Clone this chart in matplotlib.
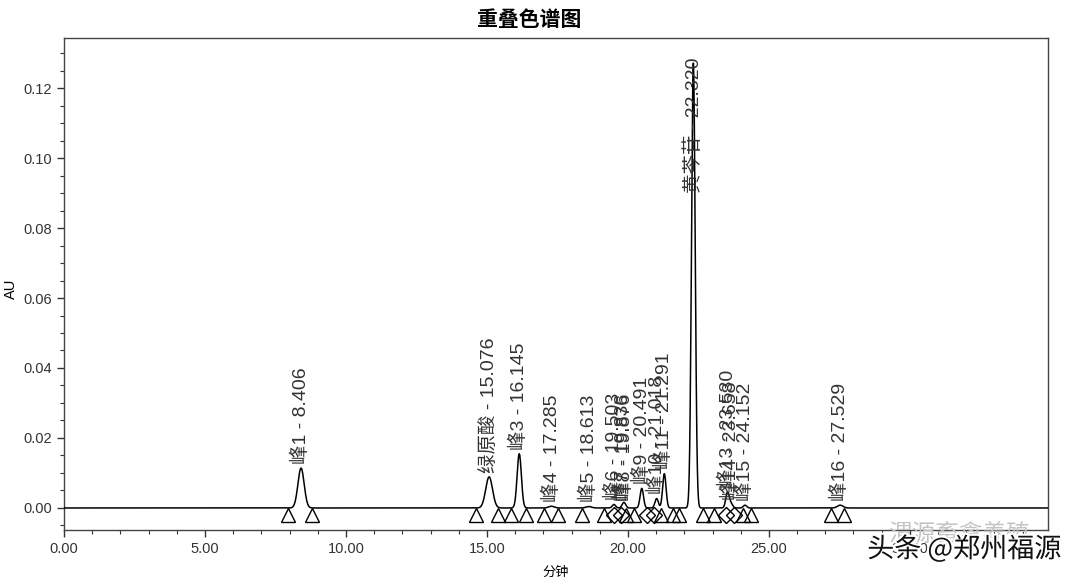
import numpy as np
import matplotlib
matplotlib.use("Agg")
import matplotlib.pyplot as plt
import matplotlib.patheffects as pe
from matplotlib.ticker import MultipleLocator, FormatStrFormatter

plt.rcParams['font.family'] = ['Liberation Sans', 'Noto Sans CJK SC', 'DejaVu Sans']

# peak table
peak_names = ['峰1', '绿原酸', '峰3', '峰4', '峰5', '峰6', '峰7', '峰8',
              '峰9', '峰10', '峰11', '黄芩苷', '峰13', '峰14', '峰15', '峰16']
peak_rt = [8.406, 15.076, 16.145, 17.285, 18.613, 19.503, 19.836, 19.876,
           20.491, 21.018, 21.291, 22.320, 23.530, 23.658, 24.152, 27.529]
peak_height = [0.0114, 0.0089, 0.0155, 0.0005, 0.0004, 0.0010, 0.0008, 0.0009,
               0.0056, 0.0027, 0.0098, 0.1272, 0.0045, 0.0012, 0.0008, 0.0008]
peak_sigma = [0.11, 0.12, 0.075, 0.10, 0.10, 0.06, 0.06, 0.06,
              0.06, 0.06, 0.06, 0.065, 0.06, 0.06, 0.06, 0.10]

# integration start/end marks on the baseline
tri_marks = [7.96, 8.81, 14.60, 15.39, 15.85, 16.38, 17.02, 17.52, 18.37, 19.15,
             19.94, 20.22, 21.18, 21.61, 21.82, 22.65, 23.06, 24.09, 24.38,
             27.22, 27.68]
dia_marks = [19.51, 19.76, 20.68, 20.93, 23.49, 23.77]

# build the trace from the peak table
t = np.linspace(0, 34.9, 6000)
signal = np.zeros_like(t)
for rt, h, s in zip(peak_rt, peak_height, peak_sigma):
    signal += h * np.exp(-0.5 * ((t - rt) / s) ** 2)

fig = plt.figure(figsize=(10.8, 5.88), dpi=100)
ax = fig.add_axes([0.0593, 0.0986, 0.9111, 0.8368])

ax.plot(t, signal, color='black', lw=1.1, zorder=3)

mark_y = -0.002
ax.plot(tri_marks, [mark_y] * len(tri_marks), linestyle='none', marker='^',
        markersize=10, markerfacecolor='none', markeredgecolor='black',
        markeredgewidth=1.0, zorder=4)
ax.plot(dia_marks, [mark_y] * len(dia_marks), linestyle='none', marker='D',
        markersize=8, markerfacecolor='none', markeredgecolor='black',
        markeredgewidth=1.0, zorder=4)

# peak labels
for name, rt, h in zip(peak_names, peak_rt, peak_height):
    label = f'{name} - {rt:.3f}'
    if h > 0.1:
        ax.text(rt, 0.1287, label, rotation=90, ha='center', va='top',
                fontsize=14, color='#333333', zorder=5)
    else:
        ax.text(rt, h + 0.0012, label, rotation=90, ha='center', va='bottom',
                fontsize=14, color='#333333', zorder=5)

ax.set_xlim(0, 34.9)
ax.set_ylim(-0.0063, 0.1343)
ax.xaxis.set_major_locator(MultipleLocator(5))
ax.xaxis.set_minor_locator(MultipleLocator(1))
ax.yaxis.set_major_locator(MultipleLocator(0.02))
ax.yaxis.set_minor_locator(MultipleLocator(0.005))
ax.xaxis.set_major_formatter(FormatStrFormatter('%.2f'))
ax.yaxis.set_major_formatter(FormatStrFormatter('%.2f'))
ax.tick_params(axis='both', which='major', length=5, width=1, labelsize=10.5,
               colors='#333333')
ax.tick_params(axis='both', which='minor', length=3, width=0.8, colors='#333333')
for sp in ax.spines.values():
    sp.set_color('#444444')
    sp.set_linewidth(1.0)

ax.set_xlabel('分钟', fontsize=9.5, labelpad=8)
ax.set_ylabel('AU', fontsize=10.5)
ax.yaxis.set_label_coords(-0.047, 0.49)
fig.suptitle('重叠色谱图', x=0.49, y=0.985, fontsize=15, fontweight='heavy',
             family=['Noto Sans CJK SC'])

# watermarks
fig.text(0.888, 0.092, '渭源畜禽养殖', fontsize=17, color='#c4c4c4',
         ha='center', va='center', family=['Noto Sans CJK SC'], zorder=6)
fig.text(0.893, 0.066, '头条 @郑州福源', fontsize=19.5, color='#111111',
         ha='center', va='center', family=['Noto Sans CJK SC'], zorder=7,
         path_effects=[pe.withStroke(linewidth=3, foreground='white')])

fig.savefig('out.png', dpi=100)
